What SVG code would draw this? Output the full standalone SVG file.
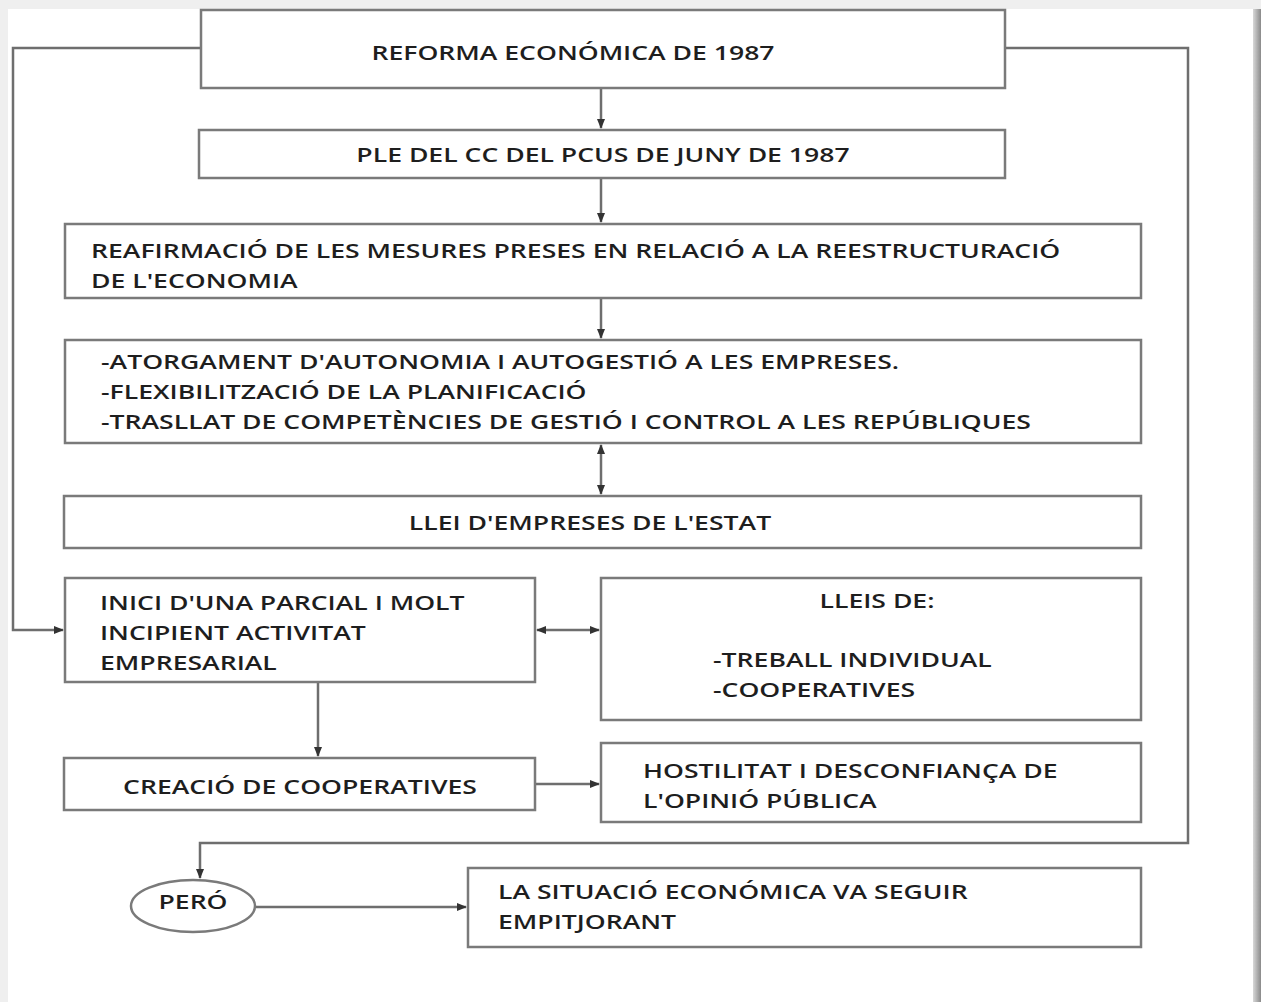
<svg xmlns="http://www.w3.org/2000/svg" width="1261" height="1002" viewBox="0 0 1261 1002">
<defs>
<linearGradient id="edge" x1="0" y1="0" x2="1" y2="0">
<stop offset="0" stop-color="#d8d8d8"/><stop offset="1" stop-color="#8a8a8a"/>
</linearGradient>
<marker id="ah" viewBox="0 0 10 10" refX="9" refY="5" markerWidth="10" markerHeight="10" markerUnits="userSpaceOnUse" orient="auto-start-reverse">
<path d="M0,1 L10,5 L0,9 z" fill="#333"/>
</marker>
<style>
.box{fill:#fff;stroke:#7a7a7a;stroke-width:2.5}
.ln{fill:none;stroke:#6e6e6e;stroke-width:2.5}
.t{font-family:"Open Sans","Liberation Sans",sans-serif;font-size:20px;font-weight:600;fill:#1e1e1e}
.c{text-anchor:middle}
</style>
</defs>
<rect x="0" y="0" width="1261" height="1002" fill="#efefef"/>
<rect x="8" y="9" width="1245" height="993" fill="#fff"/>
<rect x="1253" y="9" width="8" height="993" fill="url(#edge)"/>

<g id="connectors">
<polyline class="ln" points="201,48 13,48 13,630 63,630" marker-end="url(#ah)"/>
<polyline class="ln" points="1005,48 1188,48 1188,843 200,843 200,878" marker-end="url(#ah)"/>
<line class="ln" x1="601" y1="88" x2="601" y2="128" marker-end="url(#ah)"/>
<line class="ln" x1="601" y1="178" x2="601" y2="222" marker-end="url(#ah)"/>
<line class="ln" x1="601" y1="298" x2="601" y2="338" marker-end="url(#ah)"/>
<line class="ln" x1="601" y1="445" x2="601" y2="494" marker-start="url(#ah)" marker-end="url(#ah)"/>
<line class="ln" x1="537" y1="630" x2="599" y2="630" marker-start="url(#ah)" marker-end="url(#ah)"/>
<line class="ln" x1="318" y1="682" x2="318" y2="756" marker-end="url(#ah)"/>
<line class="ln" x1="535" y1="784" x2="599" y2="784" marker-end="url(#ah)"/>
<line class="ln" x1="256" y1="907" x2="466" y2="907" marker-end="url(#ah)"/>
</g>

<g id="n1"><rect class="box" x="201" y="10" width="804" height="78"/>
<text class="t c" transform="translate(573,60) scale(1.33,1)">REFORMA ECONÓMICA DE 1987</text></g>

<g id="n2"><rect class="box" x="199" y="130" width="806" height="48"/>
<text class="t c" transform="translate(603,162) scale(1.33,1)">PLE DEL CC DEL PCUS DE JUNY DE 1987</text></g>

<g id="n3"><rect class="box" x="65" y="224" width="1076" height="74"/>
<text class="t" transform="translate(91,258) scale(1.33,1)">REAFIRMACIÓ DE LES MESURES PRESES EN RELACIÓ A LA REESTRUCTURACIÓ</text>
<text class="t" transform="translate(91,288) scale(1.33,1)">DE L'ECONOMIA</text></g>

<g id="n4"><rect class="box" x="65" y="340" width="1076" height="103"/>
<text class="t" transform="translate(101,369) scale(1.33,1)">-ATORGAMENT D'AUTONOMIA I AUTOGESTIÓ A LES EMPRESES.</text>
<text class="t" transform="translate(101,399) scale(1.33,1)">-FLEXIBILITZACIÓ DE LA PLANIFICACIÓ</text>
<text class="t" transform="translate(101,429) scale(1.33,1)">-TRASLLAT DE COMPETÈNCIES DE GESTIÓ I CONTROL A LES REPÚBLIQUES</text></g>

<g id="n5"><rect class="box" x="64" y="496" width="1077" height="52"/>
<text class="t c" transform="translate(590,530) scale(1.33,1)">LLEI D'EMPRESES DE L'ESTAT</text></g>

<g id="n6"><rect class="box" x="65" y="578" width="470" height="104"/>
<text class="t" transform="translate(100,610) scale(1.33,1)">INICI D'UNA PARCIAL I MOLT</text>
<text class="t" transform="translate(100,640) scale(1.33,1)">INCIPIENT ACTIVITAT</text>
<text class="t" transform="translate(100,670) scale(1.33,1)">EMPRESARIAL</text></g>

<g id="n7"><rect class="box" x="601" y="578" width="540" height="142"/>
<text class="t c" transform="translate(877,608) scale(1.33,1)">LLEIS DE:</text>
<text class="t" transform="translate(713,667) scale(1.33,1)">-TREBALL INDIVIDUAL</text>
<text class="t" transform="translate(713,697) scale(1.33,1)">-COOPERATIVES</text></g>

<g id="n8"><rect class="box" x="64" y="758" width="471" height="52"/>
<text class="t c" transform="translate(300,794) scale(1.33,1)">CREACIÓ DE COOPERATIVES</text></g>

<g id="n9"><rect class="box" x="601" y="743" width="540" height="79"/>
<text class="t" transform="translate(643,778) scale(1.33,1)">HOSTILITAT I DESCONFIANÇA DE</text>
<text class="t" transform="translate(643,808) scale(1.33,1)">L'OPINIÓ PÚBLICA</text></g>

<g id="n10"><ellipse class="box" cx="193" cy="906" rx="62" ry="26"/>
<text class="t c" transform="translate(193,909) scale(1.33,1)">PERÓ</text></g>

<g id="n11"><rect class="box" x="468" y="868" width="673" height="79"/>
<text class="t" transform="translate(498,899) scale(1.33,1)">LA SITUACIÓ ECONÓMICA VA SEGUIR</text>
<text class="t" transform="translate(498,929) scale(1.33,1)">EMPITJORANT</text></g>
</svg>
